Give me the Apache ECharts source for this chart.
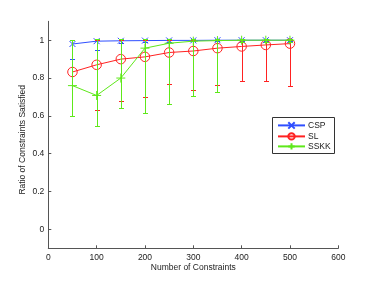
<!DOCTYPE html>
<html>
<head>
<meta charset="utf-8">
<script src="https://cdn.jsdelivr.net/npm/echarts@6/dist/echarts.min.js"></script>
<style>html,body{margin:0;padding:0;background:#fff}#c{width:374px;height:281px}</style>
</head>
<body>
<div id="c"></div>
<script>
var xs = [50, 100, 150, 200, 250, 300, 350, 400, 450, 500];
var csp = [0.98, 0.995, 0.997, 0.998, 0.999, 0.999, 1.0, 1.0, 1.0, 1.0];
var cspLo = [0.90, 0.95, 0.985, 0.99, 0.99, 0.995, 0.995, 0.995, 0.995, 0.995];
var cspHi = [1.0, 1.0, 1.0, 1.0, 1.0, 1.0, 1.0, 1.0, 1.0, 1.0];
var sl = [0.832, 0.87, 0.90, 0.912, 0.935, 0.943, 0.958, 0.967, 0.975, 0.982];
var slLo = [0.60, 0.633, 0.677, 0.698, 0.768, 0.738, 0.765, 0.787, 0.787, 0.756];
var slHi = [1.0, 1.0, 1.0, 1.0, 1.0, 1.0, 1.0, 1.0, 1.0, 1.0];
var sskk = [0.76, 0.708, 0.80, 0.958, 0.984, 0.995, 0.998, 1.0, 1.0, 1.0];
var sskkLo = [0.60, 0.549, 0.64, 0.617, 0.663, 0.703, 0.724, 0.99, 0.99, 0.99];
var sskkHi = [1.0, 1.005, 1.005, 1.005, 1.005, 1.005, 1.005, 1.005, 1.005, 1.005];
var seriesNames = ['CSP', 'SL', 'SSKK'];
var yTicks = [0, 0.2, 0.4, 0.6, 0.8, 1];

var BLUE = '#2f4fff', RED = '#ff2222', GREEN = '#5ee81a';
var FONT = 'Liberation Sans';

function pairs(v) { return xs.map(function (x, i) { return [x, v[i]]; }); }
function errData(lo, hi) { return xs.map(function (x, i) { return [x, lo[i], hi[i]]; }); }

function errSeries(name, lo, hi, color, zz) {
  return {
    type: 'custom', name: name + '_err', silent: true,
    data: errData(lo, hi),
    renderItem: function (params, api) {
      var x = api.value(0);
      var p1 = api.coord([x, api.value(1)]);
      var p2 = api.coord([x, api.value(2)]);
      var cx = Math.round(p1[0]);
      var y1 = Math.round(p1[1]), y2 = Math.round(p2[1]);
      var st = { fill: color, stroke: null, lineWidth: 0 };
      return {
        type: 'group', children: [
          { type: 'rect', shape: { x: cx, y: y2, width: 1, height: y1 - y2 + 1 }, style: st },
          { type: 'rect', shape: { x: cx - 2, y: y1, width: 5, height: 1 }, style: st },
          { type: 'rect', shape: { x: cx - 2, y: y2, width: 5, height: 1 }, style: st }
        ]
      };
    },
    z: zz
  };
}

function lineSeries(name, v, color, symbol, size, zz) {
  return {
    type: 'line', name: name, data: pairs(v),
    symbol: symbol, symbolSize: size, showSymbol: true,
    lineStyle: { color: color, width: 1 },
    itemStyle: { color: 'none', borderColor: color, borderWidth: 1 },
    z: zz
  };
}

function legendFor(name, centerY) {
  return {
    data: [name], left: 277, top: centerY - 5, padding: 0,
    itemWidth: 27, itemHeight: 8, z: 20,
    textStyle: { fontFamily: FONT, fontSize: 8.5, color: '#222', padding: [0, 0, 0, -2] }
  };
}

var chart = echarts.init(document.getElementById('c'), null, { renderer: 'canvas' });
chart.setOption({
  animation: false,
  backgroundColor: '#fff',
  grid: { left: 48.3, right: 35.7, top: 21.3, bottom: 32.7 },
  graphic: [{
    type: 'rect', left: 272, top: 117, z: 15,
    shape: { width: 62, height: 36 },
    style: { fill: '#fff', stroke: '#333', lineWidth: 1 }
  }],
  legend: [
    legendFor(seriesNames[0], 124.7),
    legendFor(seriesNames[1], 135.7),
    legendFor(seriesNames[2], 145.7)
  ],
  xAxis: {
    type: 'value', min: 0, max: 600, interval: 100,
    name: 'Number of Constraints', nameLocation: 'middle', nameGap: 15, nameMoveOverlap: false,
    nameTextStyle: { fontFamily: FONT, fontSize: 8.5, color: '#222' },
    axisLine: { onZero: false, lineStyle: { color: '#555', width: 1 } },
    axisTick: { inside: true, length: 3, lineStyle: { color: '#555' } },
    axisLabel: { fontFamily: FONT, fontSize: 8.5, color: '#222', margin: 5 },
    splitLine: { show: false }
  },
  yAxis: {
    type: 'value', min: -0.1, max: 1.1,
    name: 'Ratio of Constraints Satisfied', nameLocation: 'middle', nameGap: 21, nameMoveOverlap: false,
    nameTextStyle: { fontFamily: FONT, fontSize: 8.5, color: '#222', padding: [0, 0, 0, -10] },
    axisLine: { show: true, onZero: false, lineStyle: { color: '#555', width: 1 } },
    axisTick: { show: true, inside: true, length: 3, customValues: yTicks, lineStyle: { color: '#555' } },
    axisLabel: { fontFamily: FONT, fontSize: 8.5, color: '#222', margin: 4, customValues: yTicks,
      formatter: function (v) { return String(Math.round(v * 10) / 10); } },
    splitLine: { show: false }
  },
  series: [
    errSeries(seriesNames[0], cspLo, cspHi, BLUE, 2),
    lineSeries(seriesNames[0], csp, BLUE, 'path://M0,0L10,10M10,0L0,10', 6, 3),
    errSeries(seriesNames[1], slLo, slHi, RED, 4),
    lineSeries(seriesNames[1], sl, RED, 'circle', 9.5, 5),
    errSeries(seriesNames[2], sskkLo, sskkHi, GREEN, 6),
    lineSeries(seriesNames[2], sskk, GREEN, 'path://M5,0L5,10M0,5L10,5', 9, 7)
  ]
});
</script>
</body>
</html>
